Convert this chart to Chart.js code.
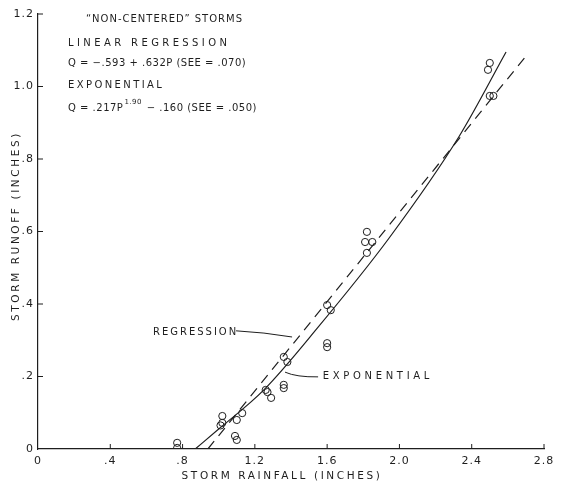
<!DOCTYPE html>
<html>
<head>
<meta charset="utf-8">
<script src="https://cdn.jsdelivr.net/npm/chart.js@4.4.1/dist/chart.umd.min.js"></script>
<style>
  html, body { margin: 0; padding: 0; background: #fff; }
</style>
</head>
<body>
<canvas id="runoff-chart" width="563" height="489"></canvas>
<script>
// observed storms (rainfall P, runoff Q), inches
const rainfall = [0.77, 0.77, 1.02, 1.02, 1.01, 1.10, 1.13, 1.09, 1.10,
  1.26, 1.27, 1.29, 1.36, 1.36, 1.36, 1.38, 1.60, 1.60, 1.60, 1.62,
  1.81, 1.85, 1.82, 1.82, 2.49, 2.50, 2.50, 2.52];
const runoff = [0.017, 0.003, 0.091, 0.072, 0.065, 0.080, 0.099, 0.036, 0.025,
  0.163, 0.157, 0.141, 0.177, 0.168, 0.254, 0.240, 0.292, 0.281, 0.397, 0.383,
  0.571, 0.571, 0.599, 0.541, 1.046, 1.065, 0.974, 0.974];

// fitted curves as drawn
const regressionP = [0.94, 2.71];
const regressionQ = [0.0, 1.09];
const exponentialP = [0.87, 1.0, 1.25, 1.55, 1.94, 2.33, 2.59];
const exponentialQ = [0.0, 0.055, 0.163, 0.336, 0.58, 0.862, 1.095];

const xTicks = [0, 0.4, 0.8, 1.2, 1.6, 2.0, 2.4, 2.8];
const yTicks = [0, 0.2, 0.4, 0.6, 0.8, 1.0, 1.2];

const ink = "#1e1e1e";
const font = "'DejaVu Sans', sans-serif";

function fmt(v) {
  if (v === 0) return "0";
  const s = v.toFixed(1);
  return v < 1 ? s.slice(1) : s;
}

function pairs(xs, ys) {
  return xs.map((x, i) => ({ x: x, y: ys[i] }));
}

function spaced(ctx, text, x, y, size, spacing) {
  ctx.font = size + "px " + font;
  ctx.letterSpacing = spacing + "px";
  ctx.fillText(text, x, y);
  return ctx.measureText(text).width;
}

const paperPlugin = {
  id: "paper",
  beforeDraw(chart) {
    chart.ctx.letterSpacing = "1px";
  },
  afterDraw(chart) {
    const ctx = chart.ctx;
    const xs = chart.scales.x;
    const ys = chart.scales.y;
    const area = chart.chartArea;
    ctx.save();
    ctx.strokeStyle = ink;
    ctx.fillStyle = ink;
    ctx.lineWidth = 1;

    // inward tick marks
    ctx.beginPath();
    xTicks.slice(1).forEach(v => {
      const px = xs.getPixelForValue(v);
      ctx.moveTo(px, area.bottom);
      ctx.lineTo(px, area.bottom - 5);
    });
    yTicks.slice(1).forEach(v => {
      const py = ys.getPixelForValue(v);
      ctx.moveTo(area.left, py);
      ctx.lineTo(area.left + 5, py);
    });
    ctx.stroke();

    ctx.textBaseline = "middle";
    ctx.textAlign = "left";

    // header block
    const hx = xs.getPixelForValue(0.166);
    spaced(ctx, "\u201CNON-CENTERED\u201D STORMS", xs.getPixelForValue(0.265), 19, 10, 1.0);
    spaced(ctx, "LINEAR REGRESSION", hx, 43, 10, 3.4);
    spaced(ctx, "Q = \u2212.593 + .632P (SEE = .070)", hx, 63, 10, 0.5);
    spaced(ctx, "EXPONENTIAL", hx, 85, 10, 2.4);
    let w = spaced(ctx, "Q = .217P", hx, 108, 10, 0.5);
    let w2 = spaced(ctx, "1.90", hx + w + 1, 102, 7, 0.5);
    spaced(ctx, " \u2212 .160 (SEE = .050)", hx + w + w2 + 2, 108, 10, 0.5);

    // curve labels with leaders
    ctx.beginPath();
    ctx.moveTo(xs.getPixelForValue(1.096), ys.getPixelForValue(0.326));
    ctx.quadraticCurveTo(xs.getPixelForValue(1.25), ys.getPixelForValue(0.322),
      xs.getPixelForValue(1.406), ys.getPixelForValue(0.309));
    ctx.moveTo(xs.getPixelForValue(1.367), ys.getPixelForValue(0.212));
    ctx.quadraticCurveTo(xs.getPixelForValue(1.43), ys.getPixelForValue(0.198),
      xs.getPixelForValue(1.55), ys.getPixelForValue(0.199));
    ctx.stroke();
    spaced(ctx, "REGRESSION", xs.getPixelForValue(0.636), ys.getPixelForValue(0.322), 10, 2.0);
    spaced(ctx, "EXPONENTIAL", xs.getPixelForValue(1.575), ys.getPixelForValue(0.201), 10, 3.7);

    // axis titles
    ctx.textAlign = "center";
    spaced(ctx, "STORM RAINFALL (INCHES)", 282, 476, 10.5, 2.6);
    ctx.translate(16, 226);
    ctx.rotate(-Math.PI / 2);
    spaced(ctx, "STORM RUNOFF (INCHES)", 0, 0, 10.5, 2.6);
    ctx.restore();
  }
};

new Chart(document.getElementById("runoff-chart"), {
  type: "scatter",
  data: {
    datasets: [
      {
        data: pairs(rainfall, runoff),
        pointStyle: "circle",
        pointRadius: 3.6,
        borderColor: ink,
        borderWidth: 1,
        backgroundColor: "rgba(0,0,0,0)"
      },
      {
        type: "line",
        data: pairs(regressionP, regressionQ),
        borderColor: ink,
        borderWidth: 1.2,
        borderDash: [10, 7],
        pointRadius: 0,
        fill: false
      },
      {
        type: "line",
        data: pairs(exponentialP, exponentialQ),
        borderColor: ink,
        borderWidth: 1.2,
        cubicInterpolationMode: "monotone",
        pointRadius: 0,
        fill: false
      }
    ]
  },
  options: {
    responsive: false,
    animation: false,
    devicePixelRatio: 1,
    layout: { padding: { left: 0, right: 19, top: 14, bottom: 0 } },
    plugins: { legend: { display: false }, tooltip: { enabled: false } },
    scales: {
      x: {
        type: "linear",
        min: 0,
        max: 2.8,
        afterBuildTicks: s => { s.ticks = xTicks.map(v => ({ value: v })); },
        afterFit: s => { s.height = 40; },
        grid: { display: false, drawTicks: false, tickLength: 0 },
        border: { display: true, color: ink, width: 1.2 },
        ticks: {
          padding: 6,
          color: ink,
          font: { family: font, size: 11 },
          maxRotation: 0,
          autoSkip: false,
          callback: v => fmt(v)
        }
      },
      y: {
        type: "linear",
        min: 0,
        max: 1.2,
        afterBuildTicks: s => { s.ticks = yTicks.map(v => ({ value: v })); },
        afterFit: s => { s.width = 38; },
        grid: { display: false, drawTicks: false, tickLength: 0 },
        border: { display: true, color: ink, width: 1.2 },
        ticks: {
          padding: 4,
          color: ink,
          font: { family: font, size: 11 },
          autoSkip: false,
          callback: v => fmt(v)
        }
      }
    }
  },
  plugins: [paperPlugin]
});
</script>
</body>
</html>
